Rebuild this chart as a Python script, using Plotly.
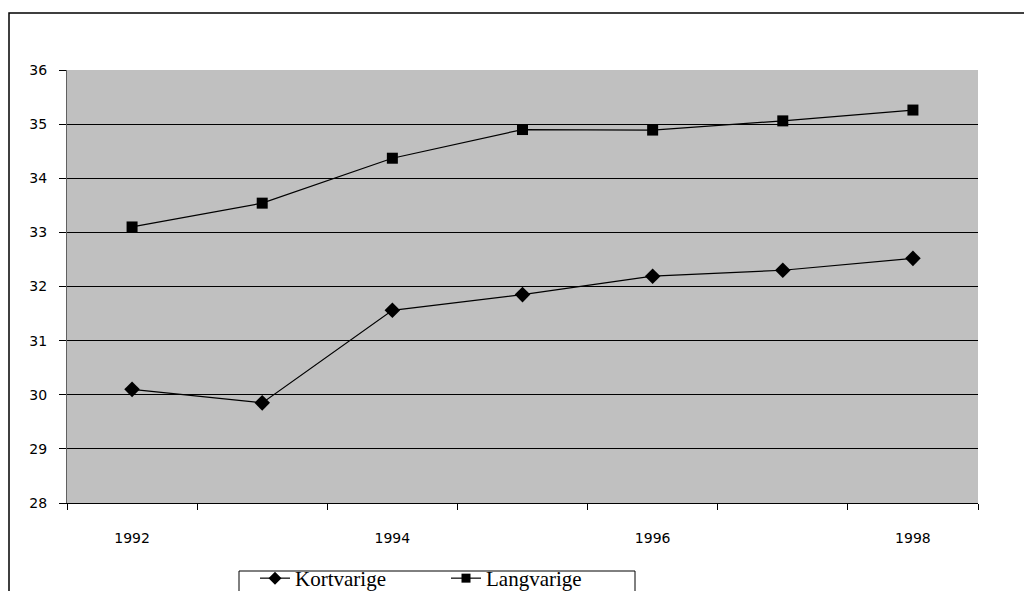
import plotly.graph_objects as go

# Data
years = [1992, 1993, 1994, 1995, 1996, 1997, 1998]
kortvarige = [30.10, 29.85, 31.56, 31.85, 32.19, 32.30, 32.52]
langvarige = [33.10, 33.54, 34.37, 34.90, 34.89, 35.06, 35.26]
year_labels = [1992, 1994, 1996, 1998]

# the page puts the figure 8px in from the top-left corner of the window
OFF = 8
W, H = 1032 - OFF, 591 - OFF
# plot area in window pixels (from the reference), shifted to figure pixels
L, R, T, B = 67 - OFF, 978 - OFF, 70 - OFF, 503 - OFF


def px_x(p):
    return (p - OFF - L) / (R - L)


def px_y(p):
    return (B - (p - OFF)) / (B - T)


fig = go.Figure()

# real series (legend drawn from the small-marker copies below)
fig.add_trace(go.Scatter(
    x=years, y=kortvarige, name='Kortvarige', mode='lines+markers',
    line=dict(color='black', width=1.2),
    marker=dict(symbol='diamond', size=12, color='black'),
    showlegend=False, legendgroup='k',
))
fig.add_trace(go.Scatter(
    x=years, y=langvarige, name='Langvarige', mode='lines+markers',
    line=dict(color='black', width=1.2),
    marker=dict(symbol='square', size=11, color='black'),
    showlegend=False, legendgroup='l',
))
# legend entries with smaller symbols, like the reference
fig.add_trace(go.Scatter(
    x=[None], y=[None], name='Kortvarige', mode='lines+markers',
    line=dict(color='black', width=1.2),
    marker=dict(symbol='diamond', size=10, color='black'),
    legendgroup='k',
))
fig.add_trace(go.Scatter(
    x=[None], y=[None], name='Langvarige', mode='lines+markers',
    line=dict(color='black', width=1.2),
    marker=dict(symbol='square', size=9, color='black'),
    legendgroup='l',
))

# outer chart border (runs off the right and bottom edges like the reference)
fig.add_shape(type='rect', xref='paper', yref='paper',
              x0=px_x(9), x1=px_x(1050), y0=px_y(610), y1=px_y(13),
              line=dict(color='black', width=1.5), layer='below')
# legend frame (its bottom is cut off by the window, as in the reference)
fig.add_shape(type='rect', xref='paper', yref='paper',
              x0=px_x(239), x1=px_x(635), y0=px_y(620), y1=px_y(571),
              line=dict(color='black', width=1), fillcolor='white',
              layer='above')

fig.update_layout(
    width=W, height=H,
    margin=dict(l=L, r=W - R, t=T, b=H - B, autoexpand=False),
    paper_bgcolor='white',
    plot_bgcolor='#C0C0C0',
    font=dict(family='DejaVu Sans, Liberation Sans, Arial', size=14, color='black'),
    showlegend=True,
    legend=dict(
        orientation='h',
        xref='container', yref='container',
        x=(255 - OFF) / W, xanchor='left',
        y=1 - (558 - OFF) / H, yanchor='top',
        borderwidth=0,
        bgcolor='rgba(0,0,0,0)',
        font=dict(family='Liberation Serif, Times New Roman', size=21),
        entrywidth=146, entrywidthmode='pixels',
        itemsizing='trace',
        tracegroupgap=0,
    ),
)

fig.update_xaxes(
    range=[1991.5, 1998.5],
    tickvals=year_labels, ticktext=[str(y) for y in year_labels],
    ticks='', ticklabelstandoff=22,
    showgrid=False, zeroline=False,
    showline=True, linecolor='black', linewidth=1,
    minor=dict(tick0=1991.5, dtick=1, ticks='outside', ticklen=6,
               tickcolor='black', showgrid=False),
    tickfont=dict(size=14),
)
fig.update_yaxes(
    range=[28, 36], dtick=1,
    ticks='outside', ticklen=7, tickcolor='black',
    ticklabelstandoff=9,
    showgrid=True, gridcolor='black', gridwidth=1,
    zeroline=False,
    showline=True, linecolor='#606060', linewidth=1,
    tickfont=dict(size=14),
)

fig.write_html("out.html")
